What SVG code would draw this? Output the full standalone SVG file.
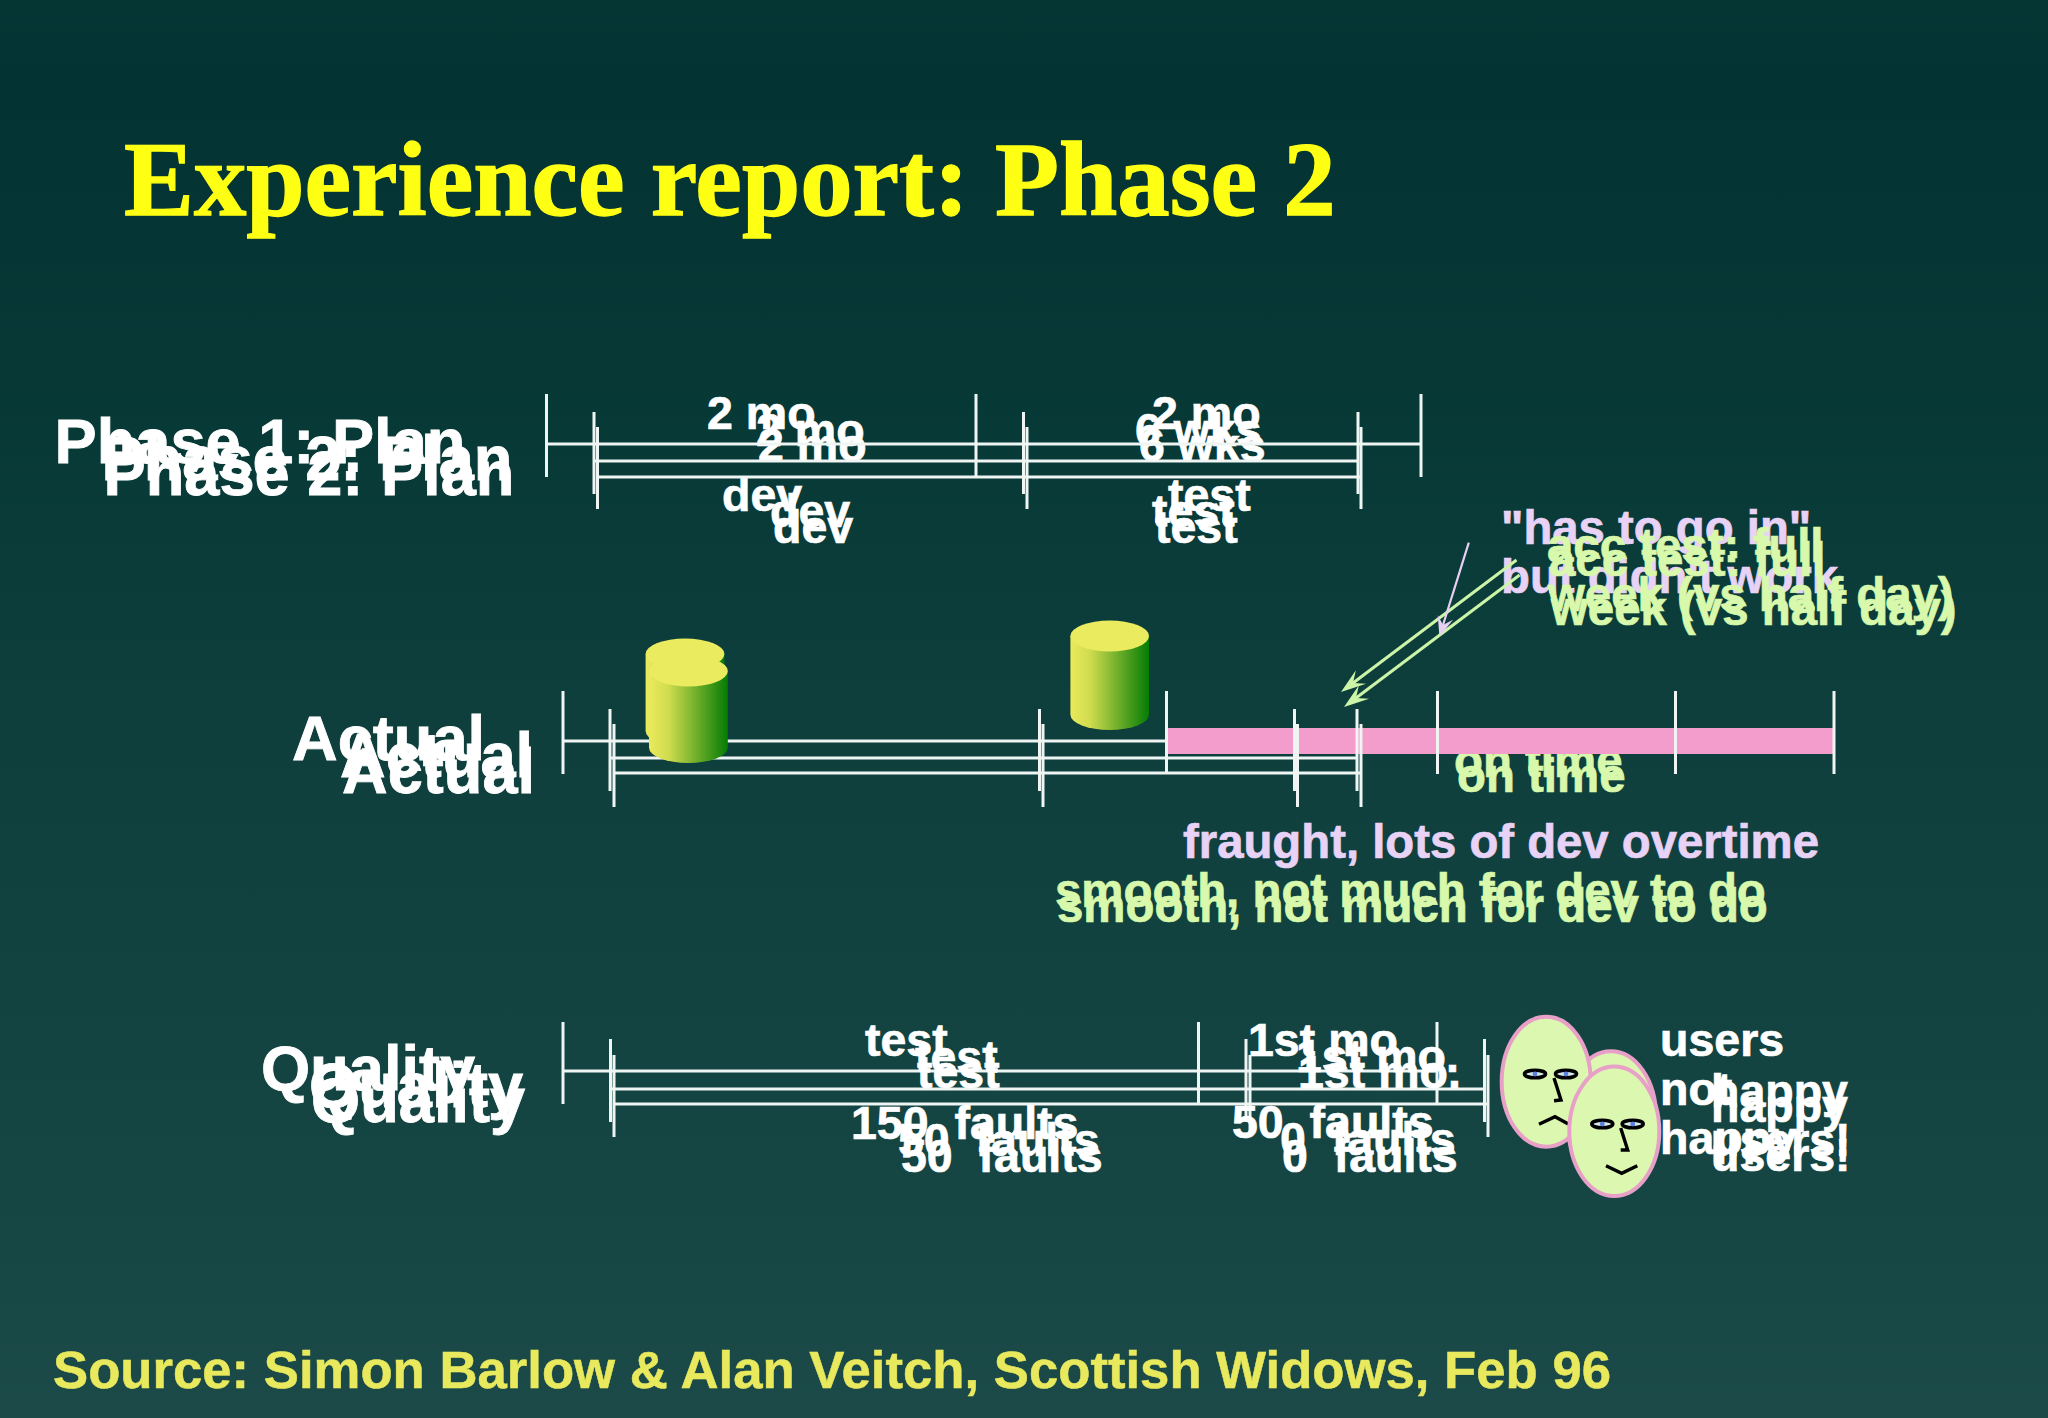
<svg xmlns="http://www.w3.org/2000/svg" width="2048" height="1418" viewBox="0 0 2048 1418">
<style>
text{font-family:"Liberation Sans",Arial,sans-serif;font-weight:700;white-space:pre}
.w{fill:#fff;stroke:#fff;stroke-width:.7;font-size:46.5px}
.h{fill:#fff;stroke:#fff;stroke-width:.8;font-size:63.2px}
.g{fill:#d8f8ac;stroke:#d8f8ac;stroke-width:.7;font-size:47.4px}
.l{fill:#e8d2f6;stroke:#e8d2f6;stroke-width:.7;font-size:47.3px}
.t{stroke:#eef5f3;stroke-width:3;fill:none}
.a{stroke:#ccf5a8;stroke-width:3;fill:none;marker-end:url(#ag)}
.p{stroke:#e8d0f5;stroke-width:2.2;fill:none;marker-end:url(#ap)}
.face{fill:#dcf8b0;stroke:#e8a0c8;stroke-width:4}
.eye{fill:#d8e8e8;stroke:#000;stroke-width:3.6}
.pup{fill:#5a80e0}
.fl{fill:none;stroke:#000;stroke-width:3.4}
.top{fill:#ebeb5f}
#title{font-family:"Liberation Serif","Times New Roman",serif;font-size:104.8px;fill:#ffff14;stroke:#ffff14;stroke-width:1.3}
#source{font-size:52.7px;fill:#e9e95e;stroke:#e9e95e;stroke-width:.5}
</style>
<defs>
<linearGradient id="bg" x1="0" y1="0" x2="0" y2="1">
<stop offset="0" stop-color="#053634"/><stop offset="0.06" stop-color="#033332"/><stop offset="0.3" stop-color="#073937"/><stop offset="0.55" stop-color="#0f403e"/><stop offset="0.8" stop-color="#154543"/><stop offset="1" stop-color="#1b4a48"/>
</linearGradient>
<linearGradient id="cyl"><stop offset="0" stop-color="#eaea5c"/><stop offset="0.25" stop-color="#cfdc4e"/><stop offset="1" stop-color="#047c04"/></linearGradient>
<marker id="ag" markerUnits="userSpaceOnUse" markerWidth="30" markerHeight="22" refX="10" refY="10" orient="auto"><path d="M0,1.5L25,10L0,18.500L10,10Z" fill="#ccf5a8"/></marker>
<marker id="ap" markerUnits="userSpaceOnUse" markerWidth="24" markerHeight="20" refX="8" refY="9" orient="auto"><path d="M0,1L20,9L0,17L8,9Z" fill="#e8d0f5"/></marker>
</defs>
<rect id="background" width="2048" height="1418" fill="url(#bg)"/>
<text id="title" x="124" y="215">Experience report: Phase 2</text>

<g id="plan-labels">
<text class="h" x="54.500" y="463">Phase 1: Plan</text>
<text class="h" x="101.500" y="480">Phase 2: Plan</text>
<text class="h" x="103.500" y="495">Phase 2: Plan</text>
<text class="w" x="707" y="429">2 mo</text><text class="w" x="756" y="446">2 mo</text><text class="w" x="758" y="461">2 mo</text>
<text class="w" x="1152" y="429">2 mo</text><text class="w" x="1135" y="446">6 wks</text><text class="w" x="1139" y="461">6 wks</text>
<text class="w" x="722" y="511">dev</text><text class="w" x="770" y="527">dev</text><text class="w" x="773" y="543">dev</text>
<text class="w" x="1168" y="511">test</text><text class="w" x="1152" y="527">test</text><text class="w" x="1155" y="543">test</text>
</g>

<g id="actual-labels">
<text class="h" x="292" y="760">Actual</text>
<text class="h" x="340" y="777">Actual</text>
<text class="h" x="342" y="793">Actual</text>
<text class="g" x="1454" y="777">on time</text>
<text class="g" x="1457" y="792">on time</text>
<text class="l" x="1183" y="858">fraught, lots of dev overtime</text>
<text class="g" x="1055" y="907">smooth, not much for dev to do</text>
<text class="g" x="1057" y="922">smooth, not much for dev to do</text>
</g>

<g id="callouts">
<text class="l" x="1501" y="544">"has to go in"</text>
<text class="l" x="1501" y="593">but didn't work</text>
<text class="g" x="1547" y="562">acc test: full</text>
<text class="g" x="1548" y="611">week (vs half day)</text>
<text class="g" x="1549" y="576">acc test: full</text>
<text class="g" x="1551" y="625">week (vs half day)</text>
</g>

<g id="connectors">
<g id="plan-timelines">
<path class="t" d="M546.5,394V477M546.5,444H1421M976,394V477M1421,394V477"/>
<path class="t" d="M594,412V494M594,461H1358M1023.5,412V494M1358,412V494"/>
<path class="t" d="M597.5,427V509M597.5,477H1361M1027,427V509M1361,427V509"/>
</g>
<g id="actual-timelines">
<path class="t" d="M563,691V774M563,741H1166"/>
<path class="t" d="M610,709V791M610,758H1357"/>
<path class="t" d="M614,724V807M614,773H1361"/>
<rect id="overrun-bar" x="1166" y="728" width="668" height="26" fill="#f29dcb"/>
<path class="t" d="M1166.5,691V774M1437.5,691V774M1675.5,691V774M1834,691V774"/>
<path class="t" d="M1039.5,709V791M1294.5,709V791M1357,709V791"/>
<path class="t" d="M1043,724V807M1297.5,724V807M1361,724V807"/>
</g>
<g id="quality-timelines">
<path class="t" d="M563,1022V1104M563,1071H1437M1198.5,1022V1104M1437,1022V1104"/>
<path class="t" d="M610.5,1039V1122M610.5,1089H1484.5M1246,1039V1122M1484.5,1039V1122"/>
<path class="t" d="M614,1055V1137M614,1104H1488M1250,1055V1137M1488,1055V1137"/>
</g>
<g id="arrows">
<path class="a" d="M1516.5,560L1353,683"/>
<path class="a" d="M1519.6,575L1356,698"/>
<path class="p" d="M1468.8,542.7L1443,625"/>
</g>
</g>

<g id="cylinder-1">
<path d="M645.6,654V731A39.4,15.5 0 0 0 724.4,731V654Z" fill="url(#cyl)"/>
<ellipse class="top" cx="685" cy="654" rx="39.4" ry="15.5"/>
</g>
<g id="cylinder-2">
<path d="M649,671V747.5A39.4,15.5 0 0 0 727.8,747.5V671Z" fill="url(#cyl)"/>
<ellipse class="top" cx="688.4" cy="671" rx="39.4" ry="15.5"/>
</g>
<g id="cylinder-3">
<path d="M1070.4,636V714.5A39.3,15.5 0 0 0 1149,714.5V636Z" fill="url(#cyl)"/>
<ellipse class="top" cx="1109.7" cy="636" rx="39.3" ry="15.5"/>
</g>

<g id="quality-labels">
<text class="h" x="261" y="1090">Quality</text>
<text class="h" x="309" y="1107">Quality</text>
<text class="h" x="311" y="1122">Quality</text>
<text class="w" x="865" y="1056">test</text><text class="w" x="915" y="1073">test</text><text class="w" x="917" y="1088">test</text>
<text class="w" x="851" y="1139">150  faults</text><text class="w" x="898" y="1156">50  faults</text><text class="w" x="901" y="1172">50  faults</text>
<text class="w" x="1248" y="1056">1st mo</text><text class="w" x="1296" y="1072">1st mo.</text><text class="w" x="1298" y="1088">1st mo.</text>
<text class="w" x="1232" y="1138">50  faults</text><text class="w" x="1280" y="1155">0  faults</text><text class="w" x="1282" y="1172">0  faults</text>
<text class="w" x="1660" y="1056">users</text><text class="w" x="1660" y="1105">not</text><text class="w" x="1660" y="1154">happy</text>
<text class="w" x="1711" y="1107">happy</text><text class="w" x="1711" y="1156">users!</text>
<text class="w" x="1711" y="1122">happy</text><text class="w" x="1711" y="1171">users!</text>
</g>

<g id="face-back"><ellipse class="face" cx="1611" cy="1116.3" rx="45" ry="65"/></g>
<g id="face-sad">
<ellipse class="face" cx="1546.2" cy="1081.7" rx="44.5" ry="65"/>
<ellipse class="eye" cx="1535" cy="1074" rx="10.500" ry="3.8"/><ellipse class="eye" cx="1566" cy="1074" rx="10.500" ry="3.8"/>
<circle class="pup" cx="1535" cy="1074" r="2.4"/><circle class="pup" cx="1566" cy="1074" r="2.4"/>
<path class="fl" d="M1554,1078L1561,1100L1554,1100.7M1539,1124.3L1555,1116.7L1568.3,1124"/>
</g>
<g id="face-happy">
<ellipse class="face" cx="1614.3" cy="1131.3" rx="45" ry="64.7"/>
<ellipse class="eye" cx="1602.3" cy="1124" rx="10.500" ry="3.8"/><ellipse class="eye" cx="1632.7" cy="1124" rx="10.500" ry="3.8"/>
<circle class="pup" cx="1602.3" cy="1124" r="2.4"/><circle class="pup" cx="1632.7" cy="1124" r="2.4"/>
<path class="fl" d="M1620.7,1128L1627.7,1150L1620.7,1150M1606,1165.7L1621.7,1173.3L1637.3,1165.7"/>
</g>

<text id="source" x="53" y="1388">Source: Simon Barlow &amp; Alan Veitch, Scottish Widows, Feb 96</text>
</svg>
